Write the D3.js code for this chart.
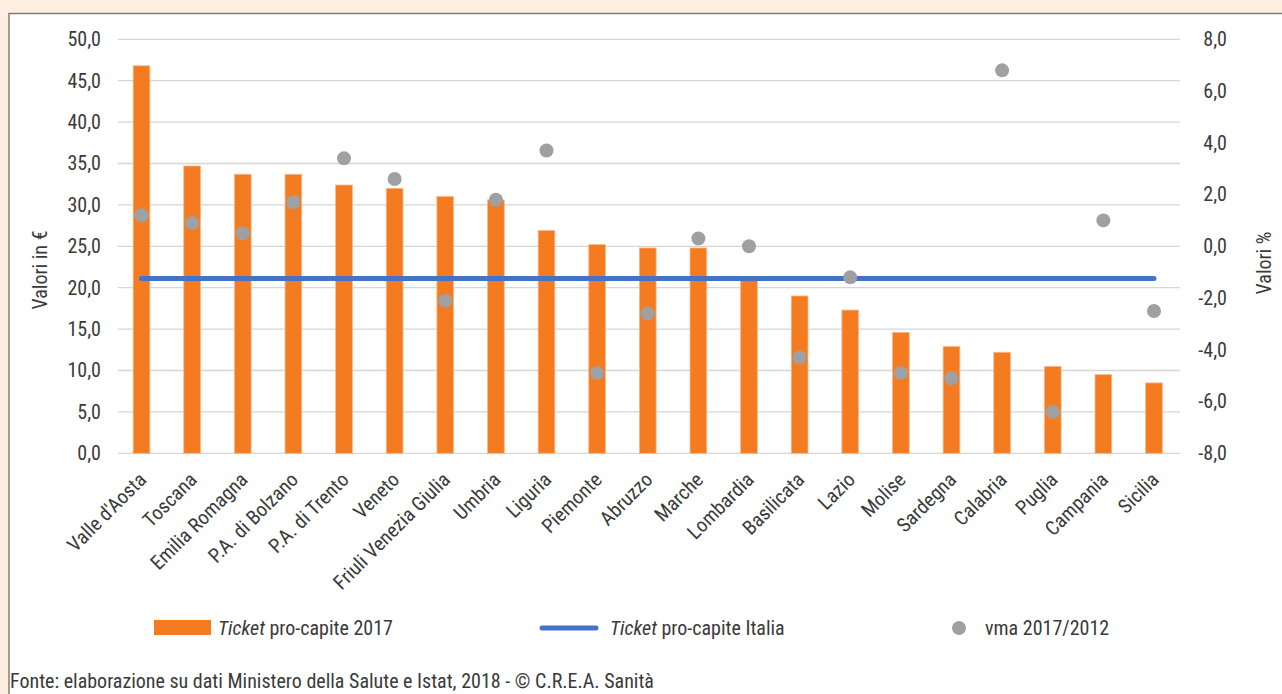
<!DOCTYPE html>
<html><head><meta charset="utf-8">
<script src="https://cdn.jsdelivr.net/npm/d3@7"></script>
<style>
html,body{margin:0;padding:0;background:#fdeee0;}
svg{display:block;}
text{font-family:"Liberation Sans Narrow","Roboto Condensed","Liberation Sans",Arial,sans-serif;fill:#3a3a3a;}
</style></head>
<body>
<svg id="chart" width="1282" height="694"></svg>
<script>
const regions = ["Valle d'Aosta","Toscana","Emilia Romagna","P.A. di Bolzano","P.A. di Trento","Veneto","Friuli Venezia Giulia","Umbria","Liguria","Piemonte","Abruzzo","Marche","Lombardia","Basilicata","Lazio","Molise","Sardegna","Calabria","Puglia","Campania","Sicilia"];
const ticket2017 = [46.8,34.7,33.7,33.7,32.4,32.0,31.0,30.6,26.9,25.2,24.8,24.8,20.9,19.0,17.3,14.6,12.9,12.2,10.5,9.5,8.5];
const ticketItalia = 21.1;
const vma = [1.2,0.9,0.5,1.7,3.4,2.6,-2.1,1.8,3.7,-4.9,-2.6,0.3,0.0,-4.3,-1.2,-4.9,-5.1,6.8,-6.4,1.0,-2.5];
const leftTicks = [0,5,10,15,20,25,30,35,40,45,50];
const rightTicks = [-8,-6,-4,-2,0,2,4,6,8];
const legendLabels = [["Ticket"," pro-capite 2017"],["Ticket"," pro-capite Italia"],["","vma 2017/2012"]];
const yLeftTitle = "Valori in €";
const yRightTitle = "Valori %";
const footer = "Fonte: elaborazione su dati Ministero della Salute e Istat, 2018 - © C.R.E.A. Sanità";

const svg = d3.select("#chart");
const fmt = v => d3.format(".1f")(v).replace(".", ",").replace("−","-");
const FS = 20;

// panel
svg.append("rect").attr("x",9).attr("y",13.5).attr("width",1290).attr("height",700)
  .attr("fill","#fff").attr("stroke","#7a7573").attr("stroke-width",1.4);

const x = d3.scaleBand().domain(regions).range([116.2,1179.3]).paddingInner(0.67).paddingOuter(0.335);
const yL = d3.scaleLinear().domain([0,50]).range([453.3,39.3]);
const yR = d3.scaleLinear().domain([-8,8]).range([453.3,39.3]);

// gridlines
svg.append("g").selectAll("line").data(leftTicks).join("line")
  .attr("x1",118).attr("x2",1180)
  .attr("y1",d=>yL(d)).attr("y2",d=>yL(d))
  .attr("stroke","#d6d6d6").attr("stroke-width",1.3);

// left axis
const axL = svg.append("g").attr("transform","translate(118,0)")
  .call(d3.axisLeft(yL).tickValues(leftTicks).tickFormat(fmt).tickSize(0).tickPadding(17));
axL.select(".domain").remove();
axL.selectAll("text").attr("font-size",FS).attr("fill","#3a3a3a").style("font-family",null);

// right axis
const axR = svg.append("g").attr("transform","translate(1227,0)")
  .call(d3.axisLeft(yR).tickValues(rightTicks).tickFormat(fmt).tickSize(0).tickPadding(0));
axR.select(".domain").remove();
axR.selectAll("text").attr("font-size",FS).attr("fill","#3a3a3a").style("font-family",null);

// bars
svg.append("g").selectAll("rect").data(regions).join("rect")
  .attr("x",(d)=>x(d)).attr("width",x.bandwidth())
  .attr("y",(d,i)=>yL(ticket2017[i])).attr("height",(d,i)=>yL(0)-yL(ticket2017[i]))
  .attr("fill","#f47b20").attr("stroke","#f9b78a").attr("stroke-width",0.8);

// Italy line
const cx = d => x(d)+x.bandwidth()/2;
svg.append("path")
  .attr("d", d3.line().x(d=>cx(d)).y(()=>yL(ticketItalia))(regions))
  .attr("stroke","#4472c4").attr("stroke-width",5).attr("fill","none").attr("stroke-linecap","round");

// vma dots
svg.append("g").selectAll("circle").data(regions).join("circle")
  .attr("cx",d=>cx(d)).attr("cy",(d,i)=>yR(vma[i])).attr("r",7).attr("fill","#a0a0a3");

// category labels
svg.append("g").selectAll("text").data(regions).join("text")
  .attr("transform",d=>`translate(${cx(d)+6},${481}) rotate(-45)`)
  .attr("text-anchor","end").attr("font-size",FS).text(d=>d);

// axis titles
svg.append("text").attr("transform","translate(47,270) rotate(-90)").attr("text-anchor","middle")
  .attr("font-size",FS).text(yLeftTitle);
svg.append("text").attr("transform","translate(1271,263) rotate(-90)").attr("text-anchor","middle")
  .attr("font-size",FS).text(yRightTitle);

// legend
const ly = 628;
svg.append("rect").attr("x",154).attr("y",620).attr("width",57).attr("height",15).attr("fill","#f47b20");
svg.append("line").attr("x1",542).attr("x2",596).attr("y1",ly).attr("y2",ly)
  .attr("stroke","#4472c4").attr("stroke-width",5).attr("stroke-linecap","round");
svg.append("circle").attr("cx",959).attr("cy",ly).attr("r",7).attr("fill","#a0a0a3");
const lx = [218,610,985];
legendLabels.forEach((l,i)=>{
  const t = svg.append("text").attr("x",lx[i]).attr("y",ly+7).attr("font-size",FS);
  if(l[0]) t.append("tspan").attr("font-style","italic").text(l[0]);
  t.append("tspan").text(l[1]);
});

// footer
svg.append("text").attr("x",10).attr("y",688).attr("font-size",FS).text(footer);
</script>
</body></html>
